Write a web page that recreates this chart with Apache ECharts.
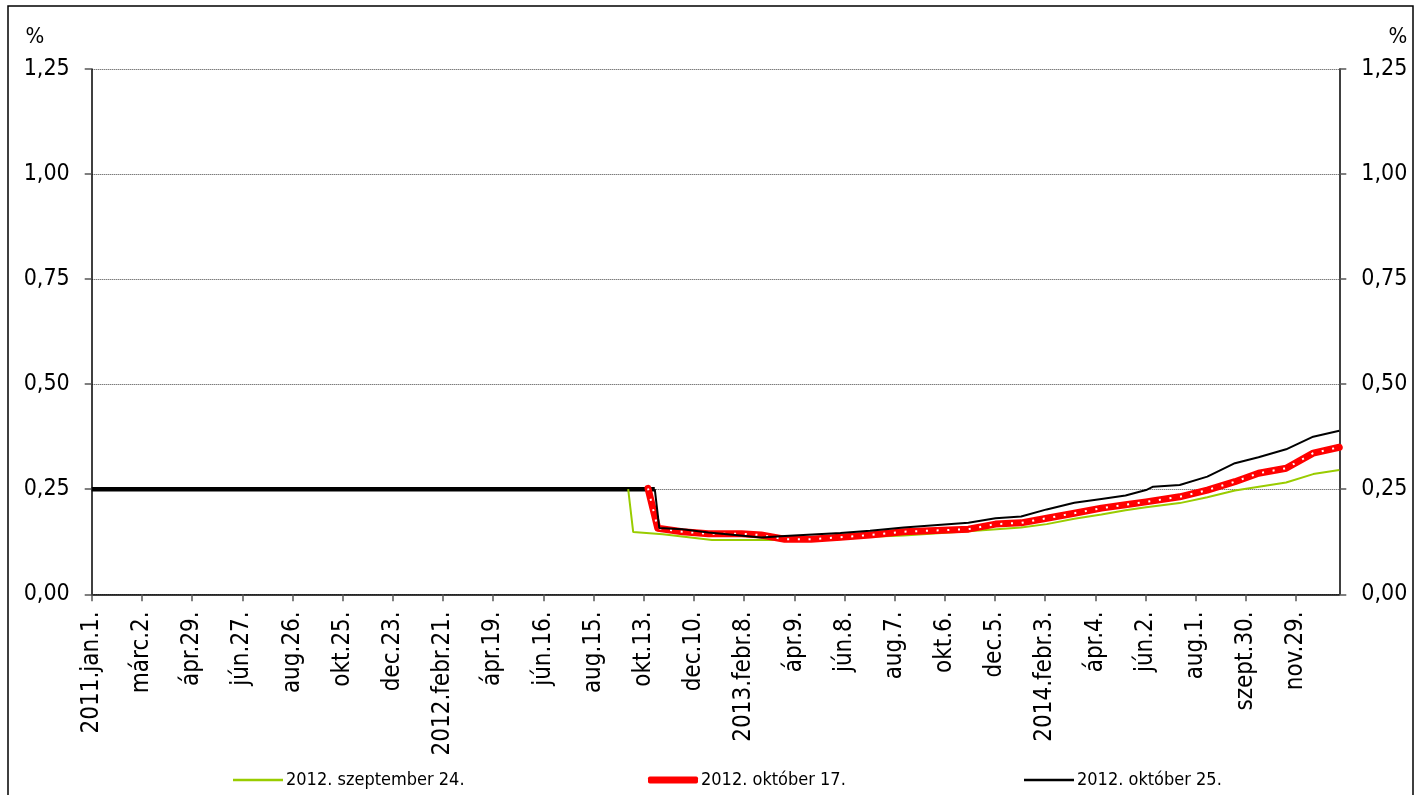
<!DOCTYPE html>
<html>
<head>
<meta charset="utf-8">
<script src="https://cdn.jsdelivr.net/npm/echarts@6/dist/echarts.min.js"></script>
<style>
html,body{margin:0;padding:0;background:#fff;}
#chart{width:1422px;height:795px;}
</style>
</head>
<body>
<div id="chart"></div>
<script>
// Tick labels of the category-like x axis (one per tick, tick index = position)
var tickLabels = ['2011.jan.1.', 'márc.2.', 'ápr.29.', 'jún.27.', 'aug.26.', 'okt.25.', 'dec.23.',
  '2012.febr.21.', 'ápr.19.', 'jún.16.', 'aug.15.', 'okt.13.', 'dec.10.', '2013.febr.8.', 'ápr.9.',
  'jún.8.', 'aug.7.', 'okt.6.', 'dec.5.', '2014.febr.3.', 'ápr.4.', 'jún.2.', 'aug.1.', 'szept.30.', 'nov.29.'];
var xMax = 24.86;

var seriesNames = ['2012. szeptember 24.', '2012. október 17.', '2012. október 25.'];

// Historical (flat) part, value 0.25 %
var histFlat = [[0, 0.25], [11.22, 0.25]];

// x in tick units, y in %
var sep24 = [[10.69, 0.25], [10.79, 0.148], [11.38, 0.143], [12.36, 0.129], [13.34, 0.129], [14.72, 0.129],
  [15.51, 0.137], [16.18, 0.140], [17.47, 0.150], [18.52, 0.159], [19.03, 0.167], [19.58, 0.180],
  [20.12, 0.190], [20.60, 0.200], [21.01, 0.207], [21.68, 0.217], [22.23, 0.231], [22.78, 0.247],
  [23.80, 0.266], [24.34, 0.286], [24.86, 0.296]];

var okt17 = [[11.085, 0.252], [11.28, 0.157], [11.77, 0.149], [12.29, 0.144], [12.95, 0.144], [13.34, 0.141],
  [13.81, 0.131], [14.33, 0.131], [14.92, 0.136], [15.51, 0.141], [16.18, 0.149], [17.47, 0.155],
  [18.01, 0.167], [18.52, 0.170], [19.03, 0.181], [19.58, 0.193], [20.12, 0.205], [20.60, 0.213],
  [21.01, 0.220], [21.68, 0.232], [22.23, 0.248], [22.78, 0.268], [23.25, 0.288], [23.80, 0.300],
  [24.34, 0.336], [24.86, 0.350]];

var okt25 = [[11.22, 0.25], [11.31, 0.158], [11.77, 0.155], [12.29, 0.147], [13.34, 0.135], [13.81, 0.139],
  [14.92, 0.146], [15.51, 0.151], [16.18, 0.159], [17.47, 0.170], [18.01, 0.181], [18.52, 0.185],
  [19.03, 0.202], [19.58, 0.218], [20.12, 0.227], [20.60, 0.235], [21.01, 0.248], [21.15, 0.256],
  [21.68, 0.260], [22.23, 0.280], [22.78, 0.312], [23.25, 0.326], [23.80, 0.345], [24.34, 0.375],
  [24.86, 0.389]];

var yTicks = {min: 0, max: 1.25, interval: 0.25};

var FONT = "'DejaVu Sans Condensed', 'DejaVu Sans', sans-serif";
var chart = echarts.init(document.getElementById('chart'));

function yFmt(v) { return v.toFixed(2).replace('.', ','); }

function legend(name, left, h, icon) {
  return {
    data: [name], left: left, top: 766, itemWidth: 50, itemHeight: h, itemGap: 0, icon: icon,
    textStyle: {fontFamily: FONT, fontSize: 18, color: '#000', padding: [0, 0, 0, -2]},
    selectedMode: false
  };
}

var yAxisBase = {
  type: 'value', min: yTicks.min, max: yTicks.max, interval: yTicks.interval,
  axisLine: {show: true, lineStyle: {color: '#000', width: 1.5}},
  axisTick: {show: true, length: 7, lineStyle: {color: '#555', width: 1.5}},
  axisLabel: {formatter: yFmt, fontFamily: FONT, fontSize: 23, color: '#000', margin: 22}
};

chart.setOption({
  animation: false,
  backgroundColor: '#fff',
  grid: {left: 91.7, right: 82.7, top: 69, bottom: 200.7, containLabel: false},
  graphic: [
    {type: 'rect', shape: {x: 8, y: 6, width: 1405, height: 800}, style: {fill: 'none', stroke: '#000', lineWidth: 1.5}, silent: true},
    {type: 'text', x: 35, y: 37, style: {text: '%', font: '22px ' + FONT, fill: '#000', textAlign: 'center', textVerticalAlign: 'middle'}},
    {type: 'text', x: 1398, y: 37, style: {text: '%', font: '22px ' + FONT, fill: '#000', textAlign: 'center', textVerticalAlign: 'middle'}}
  ],
  legend: [legend(seriesNames[0], 228, 2.5, 'rect'), legend(seriesNames[1], 643, 7, 'roundRect'), legend(seriesNames[2], 1019, 2.5, 'rect')],
  xAxis: {
    type: 'value', min: 0, max: xMax, interval: 1,
    axisLine: {show: true, onZero: false, lineStyle: {color: '#000', width: 1.5}},
    axisTick: {show: true, length: 7, lineStyle: {color: '#555', width: 1.5}},
    splitLine: {show: false},
    axisLabel: {
      rotate: 90, margin: 17, fontFamily: FONT, fontSize: 24, color: '#000', showMaxLabel: false,
      formatter: function (v) { return (Math.abs(v - Math.round(v)) < 1e-6 && tickLabels[Math.round(v)]) || ''; }
    }
  },
  yAxis: [
    Object.assign({}, yAxisBase, {position: 'left', splitLine: {show: true, lineStyle: {color: '#444', width: 1, type: [1, 1]}}}),
    Object.assign({}, yAxisBase, {position: 'right', splitLine: {show: false}})
  ],
  series: [
    {name: 'flat', type: 'line', data: histFlat, showSymbol: false, symbol: 'none', z: 1,
      lineStyle: {color: '#000', width: 4.5}},
    {name: seriesNames[0], type: 'line', data: sep24, showSymbol: false, symbol: 'none', z: 2,
      itemStyle: {color: '#99cc00'}, lineStyle: {color: '#99cc00', width: 2}},
    {name: seriesNames[1], type: 'line', data: okt17, showSymbol: false, symbol: 'none', z: 3,
      itemStyle: {color: '#ff0000'}, lineStyle: {color: '#ff0000', width: 7, cap: 'round', join: 'round'}},
    {name: 'okt17dots', type: 'line', data: okt17, showSymbol: false, symbol: 'none', z: 4,
      lineStyle: {color: '#ffffff', width: 2, type: [2, 8.7]}},
    {name: seriesNames[2], type: 'line', data: okt25, showSymbol: false, symbol: 'none', z: 5,
      itemStyle: {color: '#000'}, lineStyle: {color: '#000', width: 2}}
  ]
});
</script>
</body>
</html>
